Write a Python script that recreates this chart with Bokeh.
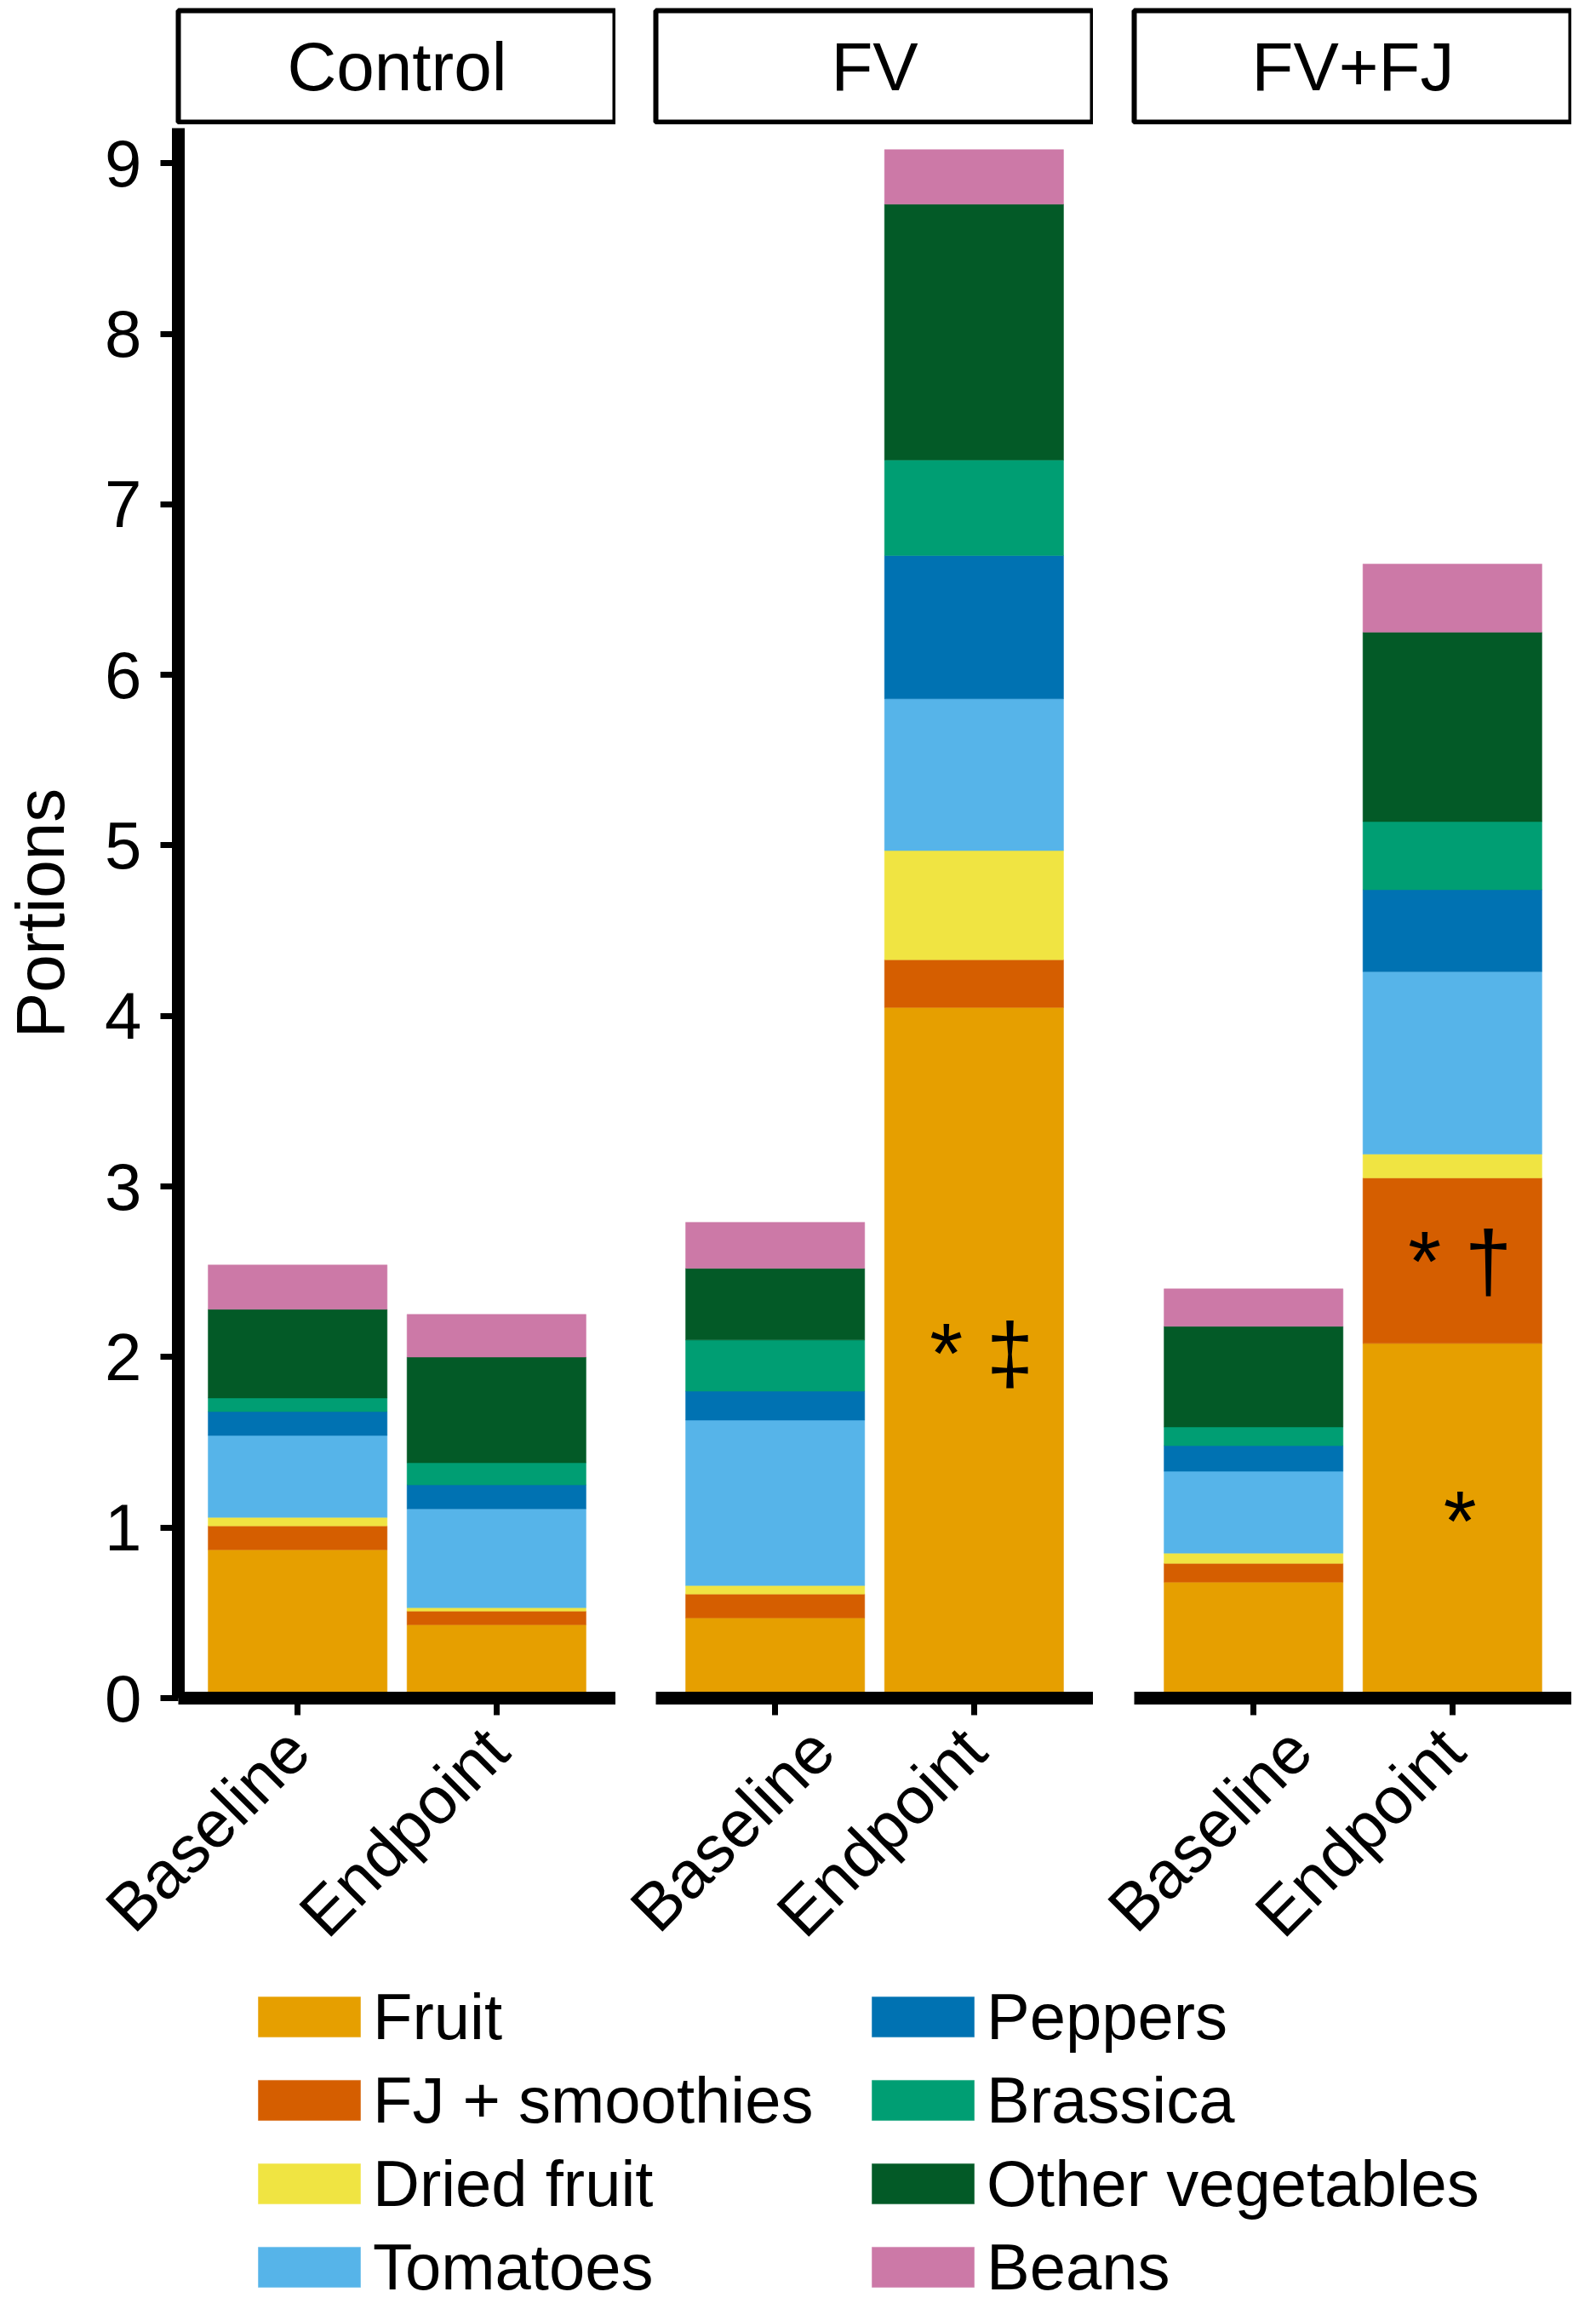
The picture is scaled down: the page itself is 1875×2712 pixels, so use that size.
import math
from bokeh.plotting import figure
from bokeh.models import Range1d, FixedTicker, ColumnDataSource, FactorRange, Legend, LegendItem
from bokeh.layouts import column, row
from bokeh.embed import file_html
from bokeh.resources import INLINE
from bokeh.core.properties import value

# ---------------- data ----------------
groups = ["Control", "FV", "FV+FJ"]
timepoints = ["Baseline", "Endpoint"]
categories = ["Fruit", "FJ + smoothies", "Dried fruit", "Tomatoes",
              "Peppers", "Brassica", "Other vegetables", "Beans"]
colors = ["#E69F00", "#D55E00", "#F0E442", "#56B4E9",
          "#0072B2", "#009E73", "#035A27", "#CC79A7"]

# bar order: Control-Baseline, Control-Endpoint, FV-Baseline, FV-Endpoint, FV+FJ-Baseline, FV+FJ-Endpoint
fruit     = [0.87, 0.43, 0.47, 4.05, 0.68, 2.08]
fj        = [0.14, 0.08, 0.14, 0.28, 0.11, 0.97]
dried     = [0.05, 0.02, 0.05, 0.64, 0.06, 0.14]
tomatoes  = [0.48, 0.58, 0.97, 0.89, 0.48, 1.07]
peppers   = [0.14, 0.14, 0.17, 0.84, 0.15, 0.48]
brassica  = [0.08, 0.13, 0.30, 0.56, 0.11, 0.40]
other_veg = [0.52, 0.62, 0.42, 1.50, 0.59, 1.11]
beans     = [0.26, 0.25, 0.27, 0.32, 0.22, 0.40]

y_ticks = [0, 1, 2, 3, 4, 5, 6, 7, 8, 9]
y_label = "Portions"

# significance marks: group, timepoint, segment, text
ann_group = ["FV", "FV+FJ", "FV+FJ"]
ann_time = ["Endpoint", "Endpoint", "Endpoint"]
ann_segment = ["Fruit", "FJ + smoothies", "Fruit"]
ann_text = ["* \u2021", "* \u2020", "*"]

series = dict(zip(categories, [fruit, fj, dried, tomatoes, peppers, brassica, other_veg, beans]))

# ---------------- styling ----------------
FONT = "Liberation Sans"
FRAME_W = 514
FRAME_H = 1844
Y_MAX = 9.206
lefts = [209, 47, 48]
LEG_H = 387

strips = []
panels = []
for gi, g in enumerate(groups):
    s = figure(frame_width=FRAME_W, frame_height=131,
               x_range=FactorRange(factors=[g]), y_range=FactorRange(factors=[g]),
               x_axis_location=None, y_axis_location=None,
               toolbar_location=None, output_backend="svg",
               min_border_left=lefts[gi], min_border_right=0,
               min_border_top=12, min_border_bottom=3,
               outline_line_color="black", outline_line_width=6)
    s.grid.visible = False
    s.text(x=[g], y=[g], text=[g], text_align="center", text_baseline="middle",
           text_font=value(FONT), text_font_size="80px", text_color="black")
    strips.append(s)

    xs = [i + 1 for i in range(len(timepoints))]
    data = {"x": xs}
    for c in categories:
        data[c] = series[c][gi * 2: gi * 2 + 2]
    src = ColumnDataSource(data)

    p = figure(frame_width=FRAME_W, frame_height=FRAME_H,
               x_range=Range1d(0.4, len(timepoints) + 0.6), y_range=Range1d(0, Y_MAX),
               y_axis_location="left" if gi == 0 else None,
               toolbar_location=None, output_backend="svg",
               min_border_left=lefts[gi], min_border_right=0,
               min_border_top=4, min_border_bottom=0,
               outline_line_color=None)
    p.grid.visible = False
    p.vbar_stack(categories, x="x", width=0.9, source=src,
                 fill_color=colors, line_color=colors, line_width=0.5)

    # annotations
    ax, ay, at = [], [], []
    for g2, t, c, txt in zip(ann_group, ann_time, ann_segment, ann_text):
        if g2 != g:
            continue
        ti = timepoints.index(t)
        bi = gi * 2 + ti
        ci = categories.index(c)
        bottom = sum(series[k][bi] for k in categories[:ci])
        ax.append(ti + 1)
        ay.append(bottom + series[c][bi] / 2)
        at.append(txt)
    if at:
        p.text(x=ax, y=ay, text=at, text_align="center", text_baseline="middle",
               x_offset=9,
               text_font=value(FONT), text_font_size="100px",
               text_color="black")

    xa = p.xaxis[0]
    xa.ticker = FixedTicker(ticks=xs)
    xa.major_label_overrides = {x: t for x, t in zip(xs, timepoints)}
    xa.major_label_orientation = math.pi / 4
    xa.major_label_text_font = FONT
    xa.major_label_text_font_size = "78px"
    xa.major_label_text_color = "black"
    xa.major_label_standoff = 28
    xa.axis_line_width = 15
    xa.axis_line_color = "black"
    xa.major_tick_out = 20
    xa.major_tick_in = 0
    xa.major_tick_line_width = 7
    xa.minor_tick_out = 0
    xa.minor_tick_in = 0

    if gi == 0:
        ya = p.yaxis[0]
        ya.ticker = FixedTicker(ticks=y_ticks)
        ya.major_label_text_font = FONT
        ya.major_label_text_font_size = "78px"
        ya.major_label_text_color = "black"
        ya.major_label_standoff = 22
        ya.axis_line_width = 15
        ya.axis_line_color = "black"
        ya.major_tick_out = 21
        ya.major_tick_in = 0
        ya.major_tick_line_width = 7
        ya.minor_tick_out = 0
        ya.minor_tick_in = 0
        ya.axis_label = y_label
        ya.axis_label_text_font = FONT
        ya.axis_label_text_font_size = "80px"
        ya.axis_label_text_font_style = "normal"
        ya.axis_label_text_color = "black"
        ya.axis_label_standoff = 28
    panels.append(p)

# ---------------- legend ----------------
leg = figure(width=1875, height=LEG_H, x_range=Range1d(0, 1), y_range=Range1d(0, 1),
             x_axis_location=None, y_axis_location=None,
             toolbar_location=None, output_backend="svg",
             min_border_left=288, min_border_top=0, min_border_right=0, min_border_bottom=0,
             outline_line_color=None)
leg.grid.visible = False
lsrc = ColumnDataSource({"x": [1], **{c: [series[c][0]] for c in categories}})
rs = leg.vbar_stack(categories, x="x", width=0.9, source=lsrc,
                    fill_color=colors, line_color=colors, line_width=0.5)
for r in rs:
    r.visible = False
legend = Legend(items=[LegendItem(label=c, renderers=[r]) for c, r in zip(categories, rs)],
                location="top_left", nrows=4, orientation="vertical",
                glyph_width=150, glyph_height=59, label_standoff=0, label_width=560,
                label_text_font=FONT, label_text_font_size="76px", label_text_color="black",
                spacing=11, padding=0, margin=0,
                inactive_fill_alpha=0,
                border_line_color=None, background_fill_alpha=0)
leg.add_layout(legend, "center")

layout = column(row(*strips), row(*panels), leg)
open("out.html", "w").write(file_html(layout, INLINE))
